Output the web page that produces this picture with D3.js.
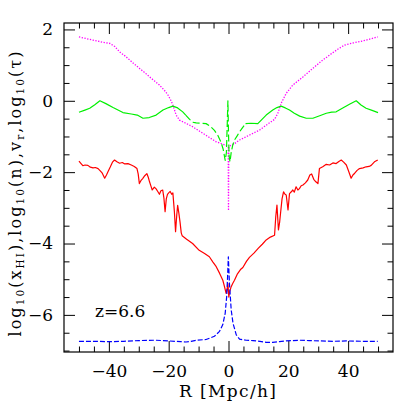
<!DOCTYPE html>
<html><head><meta charset="utf-8">
<script src="https://cdn.jsdelivr.net/npm/d3@7"></script>
<style>body{margin:0;background:#fff}svg{display:block}</style>
</head><body><script>
// ---------- data (R [Mpc/h], value) ----------
const xhiData = [[-50,-1.69],[-49.3,-1.76],[-48.7,-1.82],[-48,-1.80],[-47,-1.81],[-46.2,-1.86],[-45.3,-1.88],[-44.5,-1.87],[-43.6,-1.90],[-42.8,-1.97],[-42.2,-2.03],[-41.4,-2.17],[-40.8,-2.08],[-40.3,-1.99],[-39.5,-1.85],[-38.8,-1.72],[-38.1,-1.66],[-37.3,-1.71],[-36.4,-1.75],[-35.5,-1.73],[-34.7,-1.77],[-33.6,-1.76],[-32.5,-1.80],[-31.5,-1.84],[-30.6,-1.90],[-30.2,-2.05],[-29.8,-2.32],[-29.3,-2.24],[-28.7,-2.18],[-28,-2.10],[-27.3,-2.04],[-26.8,-2.15],[-26.4,-2.27],[-25.9,-2.40],[-25.5,-2.50],[-24.8,-2.42],[-24.2,-2.47],[-23.6,-2.55],[-23.1,-2.62],[-22.6,-2.52],[-22,-2.50],[-21.6,-2.72],[-21.2,-3.11],[-20.8,-2.75],[-20.4,-2.62],[-20,-2.58],[-19.5,-2.54],[-19,-2.62],[-18.6,-2.58],[-18.1,-3.10],[-17.7,-3.67],[-17.3,-3.20],[-17,-2.93],[-16.6,-3.15],[-16.2,-3.40],[-15.8,-3.70],[-15.5,-3.78],[-14,-3.88],[-12,-4.00],[-9.8,-4.19],[-8,-4.28],[-6.4,-4.37],[-5.2,-4.52],[-4.1,-4.65],[-3,-4.83],[-1.9,-5.03],[-1.3,-5.22],[-0.8,-5.40],[-0.5,-5.30],[-0.2,-5.12],[0.1,-5.50],[0.4,-5.35],[0.9,-5.21],[1.4,-5.12],[2,-5.03],[3,-4.85],[4,-4.73],[4.8,-4.67],[6,-4.50],[7,-4.39],[8.5,-4.27],[10,-4.13],[11.3,-4.02],[12.6,-3.90],[14,-3.82],[15.4,-3.77],[15.8,-3.25],[16.2,-2.92],[16.7,-3.62],[17.1,-3.40],[17.4,-3.15],[17.9,-2.75],[18.4,-2.55],[18.9,-2.62],[19.3,-2.64],[19.9,-3.06],[20.4,-2.60],[21,-2.55],[21.5,-2.50],[22,-2.56],[22.6,-2.41],[23.2,-2.50],[23.7,-2.46],[24.3,-2.38],[24.9,-2.36],[25.7,-2.30],[26.5,-2.22],[27.2,-2.08],[27.8,-2.05],[28.5,-2.20],[29.2,-2.27],[29.9,-2.32],[30.4,-1.90],[31.5,-1.85],[32.7,-1.78],[33.8,-1.80],[34.9,-1.74],[36,-1.76],[36.9,-1.70],[37.7,-1.66],[38.5,-1.72],[39.4,-1.80],[40.2,-1.98],[41,-2.17],[41.6,-2.08],[42.2,-2.03],[43,-1.95],[43.8,-1.90],[45,-1.88],[46,-1.85],[47,-1.84],[47.7,-1.81],[48.8,-1.71],[49.9,-1.66]];

const vrSolidLeft = [[-50,-0.32],[-48,-0.26],[-46.4,-0.21],[-44.7,-0.11],[-43,0.0],[-41,-0.08],[-38.6,-0.19],[-35.3,-0.33],[-32.5,-0.37],[-30.5,-0.40],[-28.6,-0.49],[-26.5,-0.47],[-24.2,-0.40],[-21.9,-0.26],[-20,-0.19],[-18.6,-0.15],[-17,-0.20],[-15.3,-0.31],[-14.3,-0.40]];
const vrDashed = [[-14.3,-0.40],[-13,-0.52],[-12,-0.60],[-10.8,-0.62],[-9,-0.63],[-7.5,-0.64],[-6,-0.72],[-4.7,-0.83],[-3.5,-0.98],[-2.5,-1.16],[-1.8,-1.35],[-1.1,-1.67],[-0.7,-1.45],[-0.4,-0.6],[-0.2,0.0],[0.0,-0.9],[0.2,-1.55],[0.5,-1.71],[0.9,-1.45],[1.4,-1.25],[2,-1.10],[3,-0.97],[3.7,-0.87],[4.7,-0.75],[5.7,-0.64]];
const vrSolidRight = [[5.7,-0.64],[7.5,-0.63],[9.8,-0.64],[11.2,-0.52],[12.6,-0.40],[14.8,-0.26],[16.2,-0.19],[17.6,-0.15],[19,-0.20],[20.4,-0.26],[22,-0.35],[23.8,-0.43],[26,-0.49],[28.2,-0.49],[30.5,-0.42],[32.7,-0.35],[34.5,-0.32],[36,-0.31],[38.5,-0.19],[40.6,-0.09],[42.7,0.0],[44.3,-0.12],[46,-0.21],[48,-0.27],[50,-0.33]];

const nData = [[-50,-6.74],[-45,-6.74],[-39.7,-6.75],[-35,-6.74],[-30,-6.72],[-24.2,-6.71],[-19.8,-6.73],[-16,-6.75],[-14.2,-6.76],[-12.5,-6.74],[-10.8,-6.71],[-7.5,-6.69],[-4.7,-6.60],[-3.0,-6.46],[-1.9,-6.27],[-1.1,-5.95],[-0.6,-5.48],[-0.3,-4.92],[-0.05,-4.37],[0.3,-5.10],[0.9,-5.86],[1.5,-6.23],[2.6,-6.56],[3.7,-6.68],[5.9,-6.71],[8.2,-6.72],[10.5,-6.74],[12.6,-6.77],[14.8,-6.77],[17,-6.75],[19.3,-6.73],[21.5,-6.72],[23.8,-6.71],[27,-6.72],[30.5,-6.73],[35,-6.74],[39.4,-6.73],[45,-6.74],[49.9,-6.74]];

const tauData = [[-50,1.79],[-45.3,1.70],[-42,1.64],[-39.7,1.61],[-38,1.52],[-36.4,1.37],[-34.5,1.25],[-33,1.14],[-31.5,1.03],[-29.8,0.91],[-28,0.79],[-26.4,0.67],[-24.8,0.56],[-23.1,0.44],[-21.5,0.30],[-20.3,0.17],[-19.2,0.00],[-18.6,-0.12],[-17.5,-0.40],[-16.4,-0.54],[-14,-0.64],[-11.9,-0.73],[-8.6,-0.91],[-6,-1.05],[-4.1,-1.15],[-2,-1.21],[-0.6,-1.26],[-0.1,-1.30],[0,-3.08],[0.1,-1.30],[0.6,-1.26],[2,-1.20],[3.7,-1.10],[7,-0.96],[10.4,-0.82],[13,-0.66],[15.4,-0.52],[16.5,-0.35],[17.6,-0.07],[19.3,0.21],[21.5,0.44],[24.9,0.67],[28.2,0.91],[31.5,1.14],[34.9,1.35],[36.8,1.46],[38.8,1.56],[41.6,1.62],[44,1.66],[46,1.70],[49.9,1.79]];

const xMajorTicks = [-40,-20,0,20,40];
const xMinorTicks = [-50,-45,-35,-30,-25,-15,-10,-5,5,10,15,25,30,35,45,50];
const yMajorTicks = [-6,-4,-2,0,2];
const yMinorTicks = [-7,-6.5,-5.5,-5,-4.5,-3.5,-3,-2.5,-1.5,-1,-0.5,0.5,1,1.5];
const redshiftLabel = "z=6.6";
const xTitle = "R [Mpc/h]";

// ---------- layout ----------
const W = 415, H = 415;
const L = 64, R = 393, T = 23, B = 352;
const font = "'DejaVu Serif'";

const svg = d3.select("body").append("svg").attr("width", W).attr("height", H);

const x = d3.scaleLinear().domain([-55, 55]).range([L, R]);
const y = d3.scaleLinear().domain([-7.04, 2.18]).range([B, T]);

const fmt = d => d < 0 ? "\u2212" + Math.abs(d) : String(d);

function axisGroup(axis, tx, ty) {
  const g = svg.append("g").attr("transform", `translate(${tx},${ty})`).call(axis);
  g.select(".domain").remove();
  g.selectAll(".tick line").attr("stroke", "#000").attr("stroke-width", 1);
  g.selectAll("text").style("font-family", font).style("font-size", "17px").attr("fill", "#000");
  return g;
}
// bottom
axisGroup(d3.axisBottom(x).tickValues(xMinorTicks).tickSize(-5.5).tickFormat(""), 0, B);
axisGroup(d3.axisBottom(x).tickValues(xMajorTicks).tickSize(-11).tickPadding(13).tickFormat(fmt), 0, B);
// top
axisGroup(d3.axisTop(x).tickValues(xMinorTicks).tickSize(-5.5).tickFormat(""), 0, T);
axisGroup(d3.axisTop(x).tickValues(xMajorTicks).tickSize(-11).tickFormat(""), 0, T);
// left
axisGroup(d3.axisLeft(y).tickValues(yMinorTicks).tickSize(-5.5).tickFormat(""), L, 0);
axisGroup(d3.axisLeft(y).tickValues(yMajorTicks).tickSize(-11).tickPadding(11).tickFormat(fmt), L, 0);
// right
axisGroup(d3.axisRight(y).tickValues(yMinorTicks).tickSize(-5.5).tickFormat(""), R, 0);
axisGroup(d3.axisRight(y).tickValues(yMajorTicks).tickSize(-11).tickFormat(""), R, 0);

// frame
svg.append("rect").attr("x", L).attr("y", T).attr("width", R - L).attr("height", B - T)
  .attr("fill", "none").attr("stroke", "#000").attr("stroke-width", 1.2);

// lines
const line = d3.line().x(d => x(d[0])).y(d => y(d[1]));
const plotG = svg.append("g");
function draw(data, color, dash, w) {
  plotG.append("path").datum(data).attr("d", line).attr("fill", "none")
    .attr("stroke", color).attr("stroke-width", w || 1.2)
    .attr("stroke-dasharray", dash || null).attr("stroke-linejoin", "round");
}
draw(tauData, "#ff00ff", "1.3,1.5", 1.3);
draw(vrSolidLeft, "#00f000");
draw(vrSolidRight, "#00f000");
draw(vrDashed, "#00f000", "7,3");
draw(xhiData, "#ff0000");
draw(nData, "#0000ff", "5,2");

// labels
svg.append("text").attr("x", 95).attr("y", 317)
  .style("font-family", font).style("font-size", "17px").text(redshiftLabel);

svg.append("text").attr("x", (L + R) / 2 - 1).attr("y", 397).attr("text-anchor", "middle")
  .style("font-family", font).style("font-size", "17px").attr("textLength", 97)
  .attr("lengthAdjust", "spacing").text(xTitle);

const yt = svg.append("text").attr("transform", "translate(21,194) rotate(-90)")
  .attr("text-anchor", "middle").style("font-family", font).style("font-size", "16px")
  .attr("textLength", 285).attr("lengthAdjust", "spacing");
const parts = [["log",0],["10",1],["(x",0],["HI",1],["),log",0],["10",1],["(n),v",0],["r",1],[",log",0],["10",1],["(\u03C4)",0]];
parts.forEach(([t, sub]) => {
  const s = yt.append("tspan").text(t);
  if (sub) s.style("font-size", "10.5px").attr("baseline-shift", "-3");
});
</script></body></html>
